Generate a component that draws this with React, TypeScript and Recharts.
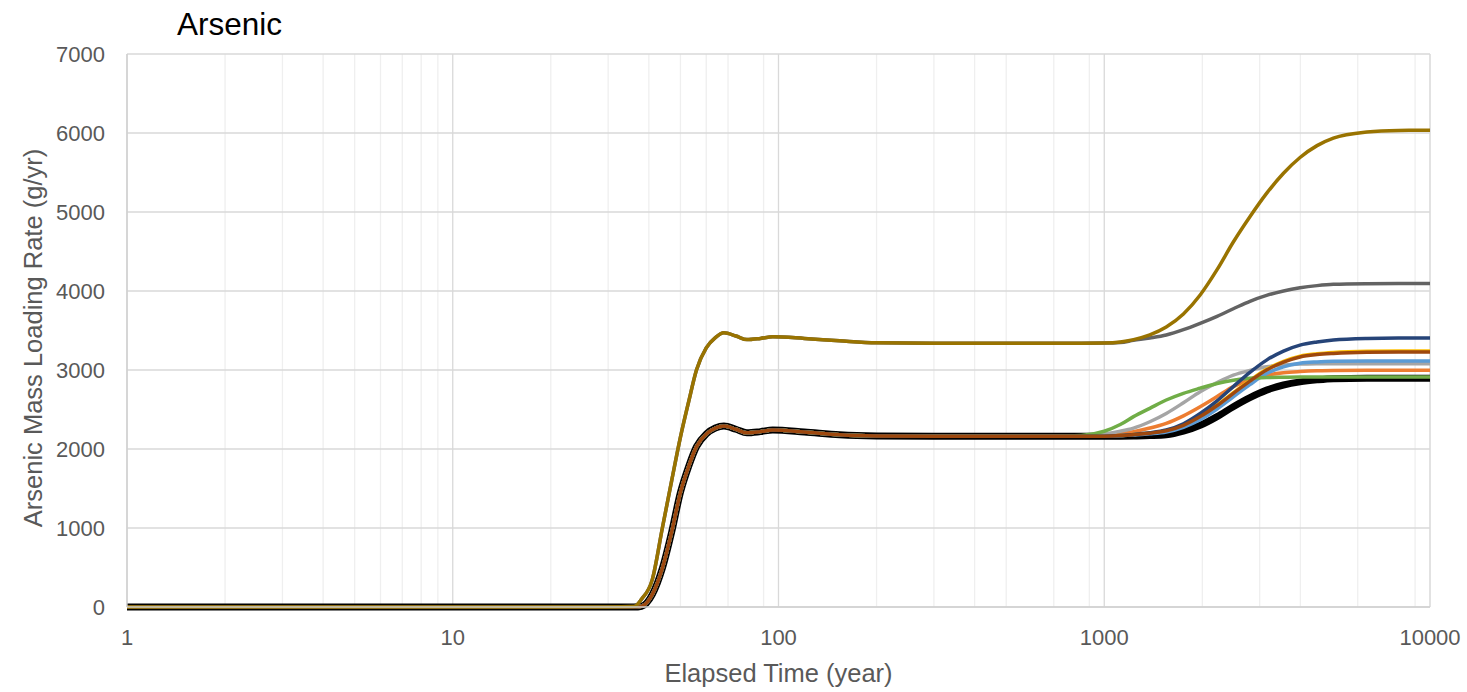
import React from 'react';
import { LineChart, Line, XAxis, YAxis, CartesianGrid } from 'recharts';

// elapsed time (year), log axis
const earlyTime = [1, 2, 5, 10, 20, 30, 36, 38, 41, 44, 47, 50, 53, 56, 60, 64, 68, 74, 80, 88, 96, 120, 154, 200, 300, 500, 700];
const lateTime = [850, 1000, 1120, 1230, 1380, 1550, 1750, 1970, 2220, 2490, 2800, 3150, 3550, 3990, 4500, 5050, 6400, 8000, 10000];

// shared first part of the curves (g/yr)
const upperEarly = [0, 0, 0, 0, 0, 0, 5, 100, 350, 1000, 1600, 2150, 2600, 3000, 3280, 3410, 3470, 3430, 3385, 3400, 3420, 3400, 3370, 3345, 3340, 3340, 3340];
const lowerEarly = [0, 0, 0, 0, 0, 0, 0, 10, 160, 490, 950, 1450, 1780, 2030, 2190, 2265, 2290, 2250, 2205, 2220, 2240, 2215, 2180, 2165, 2160, 2160, 2160];

// late part, per series
const blackLate = [2160, 2160, 2162, 2165, 2170, 2180, 2225, 2300, 2410, 2535, 2650, 2745, 2810, 2850, 2875, 2890, 2895, 2895, 2895];
const orangeLate = [2160, 2175, 2195, 2220, 2265, 2325, 2420, 2535, 2665, 2790, 2880, 2935, 2965, 2980, 2990, 2995, 2996, 2996, 2996];
const lightGrayLate = [2160, 2190, 2225, 2265, 2345, 2450, 2585, 2725, 2840, 2935, 2995, 3040, 3062, 3075, 3079, 3080, 3080, 3080, 3080];
const goldLate = [2160, 2162, 2170, 2183, 2202, 2233, 2305, 2415, 2557, 2712, 2868, 3008, 3110, 3175, 3205, 3222, 3237, 3240, 3240];
const lightBlueLate = [2160, 2162, 2168, 2178, 2192, 2215, 2275, 2370, 2505, 2660, 2815, 2955, 3040, 3085, 3102, 3110, 3114, 3114, 3114];
const greenLate = [2170, 2225, 2310, 2410, 2515, 2620, 2705, 2770, 2830, 2870, 2895, 2905, 2908, 2910, 2910, 2910, 2910, 2910, 2910];
const darkBlueLate = [2160, 2162, 2170, 2185, 2205, 2240, 2320, 2450, 2610, 2790, 2970, 3125, 3240, 3315, 3355, 3380, 3400, 3405, 3405];
const brownLate = [2160, 2162, 2170, 2182, 2200, 2230, 2300, 2410, 2550, 2705, 2860, 3000, 3100, 3165, 3195, 3210, 3225, 3228, 3228];
const darkGrayLate = [3340, 3341, 3348, 3375, 3405, 3443, 3510, 3591, 3680, 3775, 3870, 3945, 4000, 4040, 4068, 4085, 4093, 4095, 4095];
const oliveLate = [3340, 3342, 3355, 3385, 3445, 3545, 3710, 3950, 4270, 4620, 4940, 5235, 5490, 5690, 5840, 5935, 6012, 6032, 6035];

const xTicks = [1, 10, 100, 1000, 10000];
const yTicks = [0, 1000, 2000, 3000, 4000, 5000, 6000, 7000];

// minor gridlines 2..9 in each decade
const minorTicks: number[] = [];
for (let d = 1; d < 10000; d *= 10) {
  for (let k = 2; k <= 9; k++) minorTicks.push(d * k);
}

const series = [
  { key: 'black', color: '#000000', width: 7, early: lowerEarly, late: blackLate },
  { key: 'orange', color: '#ED7D31', width: 3.5, early: lowerEarly, late: orangeLate },
  { key: 'lightGray', color: '#A5A5A5', width: 3.5, early: lowerEarly, late: lightGrayLate },
  { key: 'gold', color: '#FFC000', width: 3.5, early: lowerEarly, late: goldLate },
  { key: 'lightBlue', color: '#5B9BD5', width: 3.5, early: lowerEarly, late: lightBlueLate },
  { key: 'green', color: '#70AD47', width: 3.5, early: lowerEarly, late: greenLate },
  { key: 'darkBlue', color: '#264478', width: 3.5, early: lowerEarly, late: darkBlueLate },
  { key: 'brown', color: '#9E480E', width: 3.5, early: lowerEarly, late: brownLate },
  { key: 'darkGray', color: '#636363', width: 3.5, early: upperEarly, late: darkGrayLate },
  { key: 'olive', color: '#997300', width: 3.5, early: upperEarly, late: oliveLate },
];

const time = [...earlyTime, ...lateTime];
const data = time.map((t, i) => {
  const row: { [k: string]: number } = { t };
  series.forEach(s => {
    row[s.key] = [...s.early, ...s.late][i];
  });
  return row;
});

const font = '"Liberation Sans", Arial, sans-serif';
const textColor = '#595959';

const App: React.FC = () => {
  return (
    <div style={{ position: 'absolute', left: 0, top: 0, width: 1467, height: 692, background: '#fff', fontFamily: font }}>
      <div style={{ position: 'absolute', left: 177, top: 9, fontSize: 31.5, lineHeight: 1, color: '#000' }}>Arsenic</div>
      <LineChart width={1467} height={692} data={data} margin={{ top: 54, right: 37, left: 0, bottom: 0 }}>
        <CartesianGrid xAxisId="minor" horizontal={false} stroke="#efefef" strokeWidth={1.3} />
        <CartesianGrid stroke="#d9d9d9" strokeWidth={1.3} />
        <XAxis
          xAxisId="minor"
          dataKey="t"
          type="number"
          scale="log"
          domain={[1, 10000]}
          ticks={minorTicks}
          allowDataOverflow
          hide
        />
        <XAxis
          dataKey="t"
          type="number"
          scale="log"
          domain={[1, 10000]}
          ticks={xTicks}
          allowDataOverflow
          height={85}
          tickLine={false}
          tickSize={0}
          tickMargin={22}
          axisLine={{ stroke: '#d0d0d0', strokeWidth: 1.3 }}
          tick={{ fill: textColor, fontSize: 22, fontFamily: font }}
          label={{ value: 'Elapsed Time (year)', position: 'insideBottom', offset: 10, fill: textColor, fontSize: 25.5, fontFamily: font }}
        />
        <YAxis
          type="number"
          domain={[0, 7000]}
          ticks={yTicks}
          width={127}
          tickLine={false}
          tickSize={0}
          tickMargin={22}
          axisLine={{ stroke: '#d0d0d0', strokeWidth: 1.3 }}
          tick={{ fill: textColor, fontSize: 22, fontFamily: font }}
          label={{
            content: () => (
              <text
                x={33}
                y={338}
                transform="rotate(-90 33 338)"
                textAnchor="middle"
                dominantBaseline="central"
                fill={textColor}
                fontSize={25.5}
                fontFamily={font}
              >
                Arsenic Mass Loading Rate (g/yr)
              </text>
            ),
          }}
        />
        {series.map(s => (
          <Line
            key={s.key}
            dataKey={s.key}
            type="monotone"
            stroke={s.color}
            strokeWidth={s.width}
            dot={false}
            activeDot={false}
            isAnimationActive={false}
          />
        ))}
      </LineChart>
    </div>
  );
};

export default App;
